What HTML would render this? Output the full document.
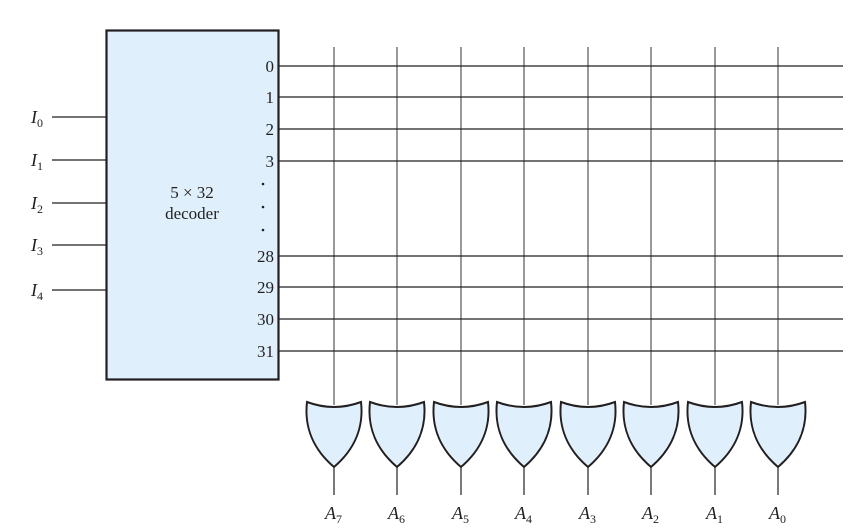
<!DOCTYPE html>
<html><head><meta charset="utf-8">
<style>
html,body{margin:0;padding:0;background:#fff;}
svg{display:block;}
text{font-family:"Liberation Serif",serif;fill:#231f20;}
</style></head>
<body>
<svg id="d" width="850" height="529" viewBox="0 0 850 529">
  <rect x="106.5" y="30.5" width="172" height="349" fill="#dff0fc" stroke="#231f20" stroke-width="2.2"/>
  <text x="192" y="198" font-size="17" text-anchor="middle">5 × 32</text>
  <text x="192" y="219" font-size="17" text-anchor="middle">decoder</text>
  <g id="dots">
    <circle cx="263" cy="184" r="1.3" fill="#231f20"/>
    <circle cx="263" cy="207" r="1.3" fill="#231f20"/>
    <circle cx="263" cy="230" r="1.3" fill="#231f20"/>
  </g>
</svg>
<script>
const outLabels=["0","1","2","3","28","29","30","31"];
const outY=[66,97,129,161,256,287,319,351];
const inLabels=["0","1","2","3","4"];
const inY=[117,160,203,245,290];
const colLabels=["7","6","5","4","3","2","1","0"];
const colX=[334,397,461,524,588,651,715,778];
const NS="http://www.w3.org/2000/svg";
const svg=document.getElementById('d');
function mk(tag,attrs,parent){const e=document.createElementNS(NS,tag);for(const k in attrs)e.setAttribute(k,attrs[k]);(parent||svg).appendChild(e);return e;}
colX.forEach((x,i)=>{
  const l=mk('line',{x1:x,y1:47,x2:x,y2:405,stroke:'#6d6e71','stroke-width':1.4});
  
  
});
outY.forEach((y,i)=>{
  const l=mk('line',{x1:279,y1:y,x2:843,y2:y,stroke:'#231f20','stroke-width':1.2});
  
  
  const t=mk('text',{x:274,y:y+6,'font-size':17,'text-anchor':'end'});
  t.textContent=outLabels[i];
  
  
});
inY.forEach((y,i)=>{
  const l=mk('line',{x1:52,y1:y,x2:106,y2:y,stroke:'#231f20','stroke-width':1.2});
  
  
  const t=mk('text',{x:31,y:y+6,'font-size':18,'font-style':'italic'});
  t.textContent='I';
  const s=mk('tspan',{'font-size':12,'font-style':'normal',dy:4},t);
  s.textContent=inLabels[i];
  
  
});
colX.forEach((x,i)=>{
  const L=x-27,R=x+27;
  const p=mk('path',{d:`M${L},402 Q${x},412 ${R},402 C${R+3},428 ${x+20},450 ${x},467 C${x-20},450 ${L-3},428 ${L},402 Z`,fill:'#dff0fc',stroke:'#231f20','stroke-width':2});
  
  
  const l=mk('line',{x1:x,y1:467,x2:x,y2:495,stroke:'#231f20','stroke-width':1.2});
  
  
  const t=mk('text',{x:x-9,y:519,'font-size':18,'font-style':'italic'});
  t.textContent='A';
  const s=mk('tspan',{'font-size':12,'font-style':'normal',dy:4},t);
  s.textContent=colLabels[i];
  
  
});
</script>
</body></html>
